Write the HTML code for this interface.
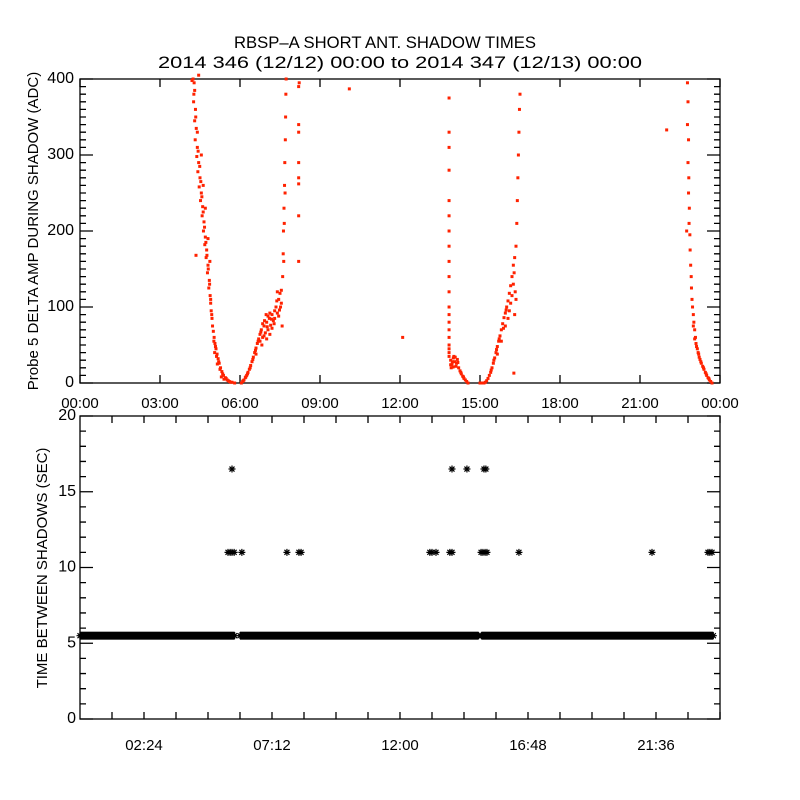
<!DOCTYPE html>
<html><head><meta charset="utf-8"><style>
html,body{margin:0;padding:0;background:#fff;}
svg{display:block;font-family:"Liberation Sans",sans-serif;}
</style></head><body>
<svg id="chart" width="800" height="800" viewBox="0 0 800 800">
<rect x="0" y="0" width="800" height="800" fill="#fff"/>
<text x="385" y="48" font-size="17" text-anchor="middle" textLength="302" lengthAdjust="spacingAndGlyphs">RBSP–A SHORT ANT. SHADOW TIMES</text>
<text x="400" y="68" font-size="17" text-anchor="middle" textLength="484" lengthAdjust="spacingAndGlyphs">2014 346 (12/12) 00:00 to 2014 347 (12/13) 00:00</text>
<g id="topPanel"></g>
<g id="botPanel"></g>
</svg>
<script>
// top panel data: [hour, ADC]
const topTickLabels = ["00:00","03:00","06:00","09:00","12:00","15:00","18:00","21:00","00:00"];
const topYTicks = [0,100,200,300,400];
const ampPoints = [
[4.24,400],[4.28,395],[4.3,385],[4.26,370],[4.33,360],[4.3,345],[4.36,335],[4.32,320],[4.4,310],[4.38,298],[4.45,290],[4.42,278],[4.5,270],[4.47,258],[4.55,250],[4.52,240],[4.6,232],[4.58,220],[4.65,212],[4.63,200],[4.7,192],[4.68,182],[4.75,175],[4.73,165],[4.8,155],[4.78,145],[4.85,135],[4.83,125],[4.88,115],[4.9,105],[4.92,95],[4.95,85],[4.97,75],[5.0,68],[5.03,60],[5.06,52],[5.1,45],[5.14,38],[5.18,32],[5.22,26],[5.27,20],[5.32,15],[5.38,10],[5.45,7],[5.52,4],[5.6,2],[5.7,1],[5.8,0],[4.35,168],[4.2,398],[4.45,405],[4.55,300],[4.62,260],[4.7,230],[4.8,190],[4.87,160],[5.05,40],[5.15,25],[5.3,8],[5.4,5],
[4.27,380],[4.34,350],[4.4,330],[4.43,305],[4.49,285],[4.53,265],[4.57,245],[4.62,225],[4.67,205],[4.72,185],[4.76,168],[4.81,150],[4.86,130],[4.9,110],[4.94,90],[5.02,55],[5.08,48],[5.12,35],[5.2,28],[5.25,18],[5.35,12],[5.48,6],[5.56,3],[5.65,1],
[6.05,0],[6.1,2],[6.15,4],[6.2,7],[6.25,10],[6.3,14],[6.35,18],[6.4,23],[6.45,28],[6.5,34],[6.55,40],[6.6,46],[6.65,52],[6.7,58],[6.75,64],[6.8,70],[6.85,60],[6.9,75],[6.95,66],[7.0,80],[7.05,70],[7.1,85],[7.15,76],[7.2,90],[7.25,82],[7.3,95],[7.35,100],[7.4,92],[7.45,110],[7.5,118],[7.52,100],[7.55,122],[7.58,75],[7.6,140],[7.62,170],[7.63,200],[7.65,230],[7.67,260],[7.68,290],[7.7,320],[7.71,350],[7.72,380],[7.73,400],[6.6,38],[6.75,55],[6.9,62],[7.05,88],[7.2,72],[7.4,120],[7.3,85],[7.0,58],[6.85,78],[7.66,210],[7.69,250],[7.64,160],
[6.12,3],[6.22,8],[6.28,12],[6.38,20],[6.48,31],[6.58,43],[6.68,55],[6.78,67],[6.82,50],[6.92,82],[7.02,74],[7.12,64],[7.18,84],[7.28,78],[7.38,108],[7.48,96],[7.55,105],[7.45,88],[7.12,92],[6.98,90],
[8.2,160],[8.2,220],[8.2,262],[8.2,270],[8.2,290],[8.2,330],[8.2,340],[8.2,390],[8.22,395],
[13.84,375],[13.84,330],[13.84,310],[13.84,280],[13.84,240],[13.84,220],[13.84,200],[13.84,180],[13.84,160],[13.84,140],[13.84,120],[13.84,100],[13.84,90],[13.84,80],[13.84,70],[13.84,60],[13.84,50],[13.84,45],[13.84,40],[13.84,35],
[13.9,30],[13.95,25],[14.0,33],[14.05,28],[14.1,22],[14.15,31],[13.92,20],[14.02,35],[14.12,26],[13.97,28],[13.9,24],[14.07,34],[13.99,21],[14.17,27],
[14.2,20],[14.25,16],[14.3,12],[14.35,9],[14.4,6],[14.45,4],[14.5,2],[14.55,0],[14.28,14],[14.38,8],
[15.0,0],[15.1,0],[15.2,1],[15.25,3],[15.3,6],[15.35,10],[15.4,14],[15.45,20],[15.5,26],[15.55,33],[15.6,40],[15.65,48],[15.7,55],[15.75,62],[15.8,70],[15.85,78],[15.9,86],[15.95,92],[16.0,100],[16.05,108],[16.1,118],[16.15,128],[16.2,140],[16.25,155],[16.3,165],[16.32,120],[16.35,180],[16.38,210],[16.4,240],[16.42,270],[16.44,300],[16.46,330],[16.48,360],[16.5,380],[15.8,55],[15.95,75],[16.05,85],[16.15,105],[16.25,130],[15.65,38],[16.3,90],
[15.05,0],[15.15,0],[15.42,17],[15.52,30],[15.62,44],[15.72,58],[15.88,72],[15.98,96],[16.1,95],[16.2,115],[16.28,145],[16.35,110],
[22.78,395],[22.8,370],[22.78,340],[22.82,320],[22.8,290],[22.83,270],[22.82,250],[22.85,230],[22.84,210],[22.87,195],[22.88,175],[22.9,155],[22.92,140],[22.93,125],[22.95,110],[22.97,100],[23.0,90],[23.02,80],[23.05,70],[23.08,60],[23.1,52],[23.15,45],[23.2,38],[23.25,31],[23.3,26],[23.35,22],[23.4,18],[23.45,14],[23.5,10],[23.55,7],[23.6,4],[23.65,2],[23.7,0],[22.75,200],
[23.12,48],[23.18,40],[23.22,34],[23.28,28],[23.38,20],[23.48,12],[23.58,6],[23.05,58],[23.0,75],
[10.1,387],[12.1,60],[22.0,333],[16.27,13]
];
// bottom panel data
const botTickLabels = ["02:24","07:12","12:00","16:48","21:36"];
const botTickHours = [2.4,7.2,12.0,16.8,21.6];
const botYTicks = [0,5,10,15,20];
const bandValue = 5.5;
const bandSegments = [[0,5.8],[6.0,14.95],[15.05,23.75]];
const elevenHours = [5.55,5.63,5.7,5.78,6.07,7.76,8.21,8.29,13.12,13.2,13.35,13.87,13.95,15.04,15.11,15.19,15.26,16.46,21.45,23.55,23.62,23.7];
const elevenValue = 11;
const sixteenHours = [5.7,13.95,14.51,15.15,15.22];
const sixteenValue = 16.5;

const NS="http://www.w3.org/2000/svg";
function mk(parent,tag,attrs){const e=document.createElementNS(NS,tag);for(const k in attrs)e.setAttribute(k,attrs[k]);parent.appendChild(e);return e;}
const X0=80,X1=720;
const xs=h=>X0+(h/24)*(X1-X0);
const T0=79,T1=383; const ysTop=v=>T1-(v/400)*(T1-T0);
const B0=416,B1=719; const ysBot=v=>B1-(v/20)*(B1-B0);

const topG=document.getElementById('topPanel');
const botG=document.getElementById('botPanel');

// top frame
let r=mk(topG,'rect',{x:X0,y:T0,width:X1-X0,height:T1-T0,fill:'none',stroke:'#000','stroke-width':1.3});


for(let v=0;v<=400;v+=10){
  const y=ysTop(v); const len=(v%100===0)?13:6;
  let t=mk(topG,'path',{d:`M${X0} ${y}h${len}M${X1} ${y}h${-len}`,stroke:'#000','stroke-width':1.3});
  
  
}
topYTicks.forEach(v=>{
  let t=mk(topG,'text',{x:74,y:ysTop(v)+4,'font-size':16,'text-anchor':'end'});t.textContent=String(v);
  
  
});
topTickLabels.forEach((lab,i)=>{
  const x=xs(i*3);
  let t=mk(topG,'path',{d:`M${x} ${T1}v-8M${x} ${T0}v8`,stroke:'#000','stroke-width':1.3});
  
  
  let l=mk(topG,'text',{x:x,y:408,'font-size':15,'text-anchor':'middle'});l.textContent=lab;
  
  
});
let yt=mk(topG,'text',{x:0,y:0,'font-size':15,'text-anchor':'middle',transform:`translate(38,231) rotate(-90)`});
yt.textContent='Probe 5 DELTA AMP DURING SHADOW (ADC)';


ampPoints.forEach(p=>{
  let d=mk(topG,'rect',{x:xs(p[0])-1.5,y:ysTop(p[1])-1.5,width:3,height:3,fill:'#ff2200'});
  
  
});

// bottom frame
r=mk(botG,'rect',{x:X0,y:B0,width:X1-X0,height:B1-B0,fill:'none',stroke:'#000','stroke-width':1.3});


for(let v=0;v<=20;v+=1){
  const y=ysBot(v); const len=(v%5===0)?13:6;
  let t=mk(botG,'path',{d:`M${X0} ${y}h${len}M${X1} ${y}h${-len}`,stroke:'#000','stroke-width':1.3});
  
  
}
botYTicks.forEach(v=>{
  let t=mk(botG,'text',{x:76,y:ysBot(v)+4,'font-size':16,'text-anchor':'end'});t.textContent=String(v);
  
  
});
for(let h=1.2;h<24;h+=1.2){
  const x=xs(h);
  let t=mk(botG,'path',{d:`M${x} ${B1}v-7M${x} ${B0}v7`,stroke:'#000','stroke-width':1.3});
  
  
}
botTickLabels.forEach((lab,i)=>{
  let l=mk(botG,'text',{x:xs(botTickHours[i]),y:750,'font-size':15,'text-anchor':'middle'});l.textContent=lab;
  
  
});
yt=mk(botG,'text',{x:0,y:0,'font-size':15,'text-anchor':'middle',transform:`translate(47,568) rotate(-90)`});
yt.textContent='TIME BETWEEN SHADOWS (SEC)';


function star(h,v,name){
  const x=xs(h),y=ysBot(v),s=3.5,q=2.5;
  let e=mk(botG,'path',{d:`M${x-s} ${y}h${2*s}M${x} ${y-s}v${2*s}M${x-q} ${y-q}l${2*q} ${2*q}M${x-q} ${y+q}l${2*q} ${-2*q}`,stroke:'#000','stroke-width':1.2});
  
  
}
bandSegments.forEach(s=>{
  const x0=xs(s[0]),x1=xs(s[1]),y=ysBot(bandValue);
  let b=mk(botG,'rect',{x:x0,y:y-4,width:x1-x0,height:8,fill:'#000'});
  
  
  star(s[0],bandValue,'interval-point');
  star(s[1],bandValue,'interval-point');
});
elevenHours.forEach(h=>star(h,elevenValue,'interval-point'));
sixteenHours.forEach(h=>star(h,sixteenValue,'interval-point'));
</script>
</body></html>
